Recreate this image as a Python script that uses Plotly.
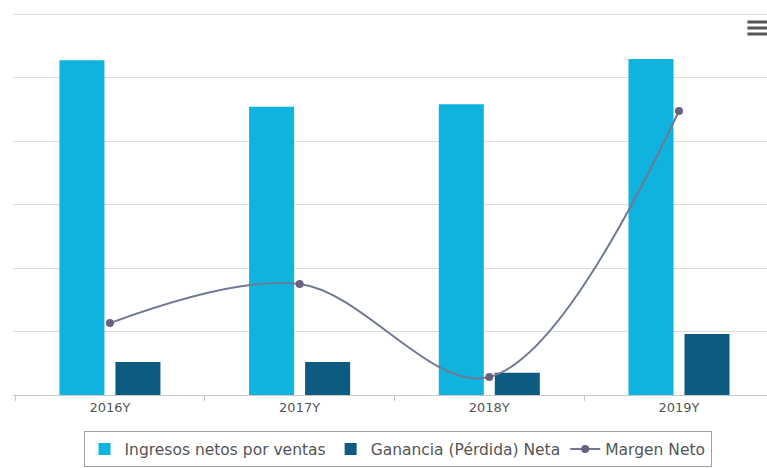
import plotly.graph_objects as go

# Annual figures
years = ["2016Y", "2017Y", "2018Y", "2019Y"]
ingresos = [5.27, 4.54, 4.58, 5.29]        # Ingresos netos por ventas
ganancia = [0.52, 0.52, 0.35, 0.96]        # Ganancia (Pérdida) Neta
margen = [9.83, 11.37, 7.71, 18.18]        # Margen Neto (%)

LIGHT = "#0fb3de"
DARK = "#0e5b82"
LINE = "#6f7a92"

fig = go.Figure()
fig.add_trace(go.Bar(
    x=years, y=ingresos, name="Ingresos netos por ventas",
    marker=dict(color=LIGHT, line=dict(width=0)),
))
fig.add_trace(go.Bar(
    x=years, y=ganancia, name="Ganancia (Pérdida) Neta",
    marker=dict(color=DARK, line=dict(width=0)),
))
fig.add_trace(go.Scatter(
    x=years, y=margen, name="Margen Neto", yaxis="y2",
    mode="lines+markers",
    line=dict(color=LINE, width=2, shape="spline", smoothing=1),
    marker=dict(color="#6a6080", size=8),
))

# Export-menu style icon (three bars) in the top-right corner
for yy in (0.9638, 0.9483, 0.9328):
    fig.add_shape(type="line", xref="paper", yref="paper",
                  x0=0.974, x1=1.0, y0=yy, y1=yy,
                  line=dict(color="#555555", width=3))

fig.update_layout(
    width=767, height=468,
    margin=dict(l=13, r=0, t=8, b=73),
    paper_bgcolor="white", plot_bgcolor="white",
    barmode="group", bargap=0.4095, bargroupgap=0.196,
    showlegend=True,
    font=dict(family="DejaVu Sans", color="#444444"),
    xaxis=dict(
        range=[-0.511, 3.464], showgrid=False, zeroline=False,
        showline=True, linecolor="#c8c8c8", linewidth=1,
        ticks="outside", tickson="boundaries", ticklen=5, tickcolor="#c8c8c8",
        tickfont=dict(size=13, color="#555555"), fixedrange=True,
    ),
    yaxis=dict(
        range=[0, 6.0945], tickvals=[1, 2, 3, 4, 5, 6],
        showgrid=True, gridcolor="#dcdcdc", gridwidth=1,
        zeroline=False, showticklabels=False, ticks="",
    ),
    yaxis2=dict(
        range=[7, 22.236], overlaying="y", side="right",
        showgrid=False, zeroline=False, showticklabels=False, ticks="",
    ),
    legend=dict(
        orientation="h", x=0.51, xanchor="center", y=-0.094, yanchor="top",
        bordercolor="#a0a0a0", borderwidth=1, bgcolor="white",
        font=dict(size=15.5, color="#555555"),
        itemwidth=30, traceorder="normal",
    ),
)

fig.write_html("out.html")
